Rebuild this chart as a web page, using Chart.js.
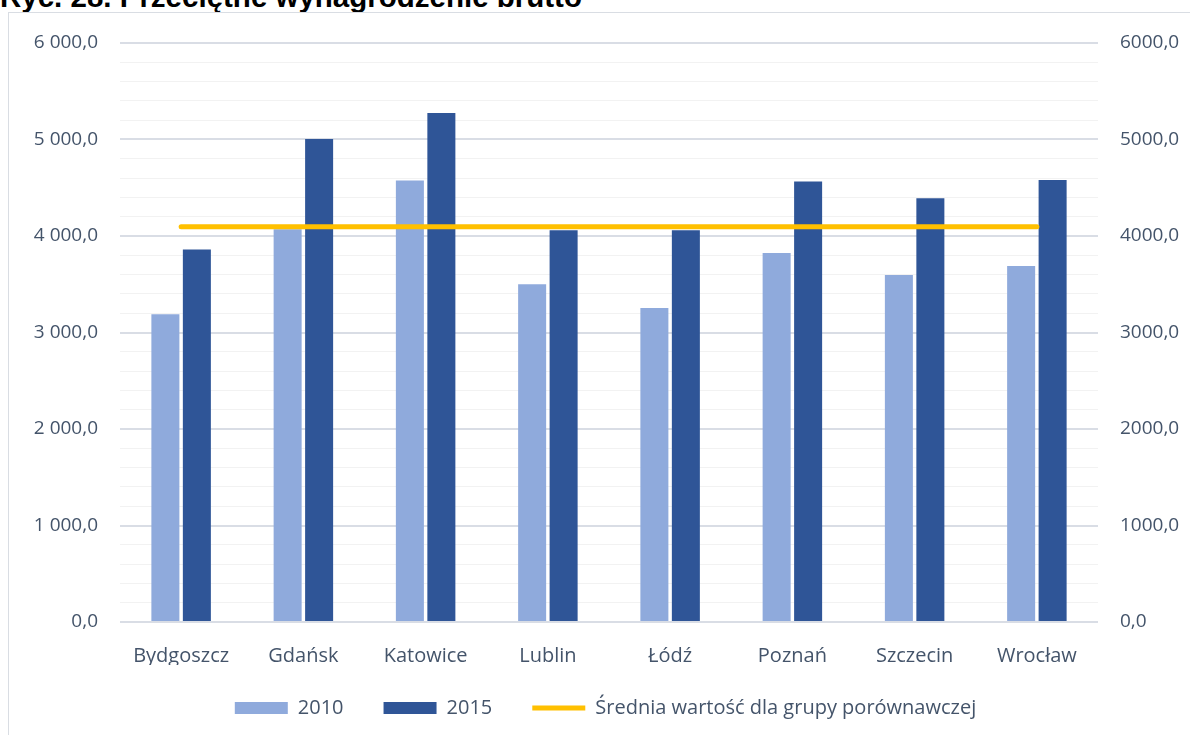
<!DOCTYPE html>
<html>
<head>
<meta charset="utf-8">
<script src="https://cdn.jsdelivr.net/npm/chart.js@4"></script>
<style>
  html, body { margin: 0; padding: 0; background: #fff; overflow: hidden; }
  body { width: 1190px; height: 735px; position: relative; }
  .title {
    position: absolute; left: 0; top: -18px; margin: 0;
    font: bold 29.5px/29.5px "Liberation Sans", Arial, sans-serif; color: #000; white-space: nowrap;
  }
  .frame {
    position: absolute; left: 8px; top: 12px; width: 1200px; height: 740px;
    border-left: 1px solid #d9dde3; border-top: 1px solid #d9dde3;
  }
  .box { position: absolute; left: 9px; top: 13px; width: 1181px; height: 722px; }
</style>
</head>
<body>
<div class="title">Ryc. 28. Przeciętne wynagrodzenie brutto</div>
<div class="frame"></div>
<div class="box"><canvas id="chart" width="1181" height="722"></canvas></div>
<script>
const cities = ['Bydgoszcz', 'Gdańsk', 'Katowice', 'Lublin', 'Łódź', 'Poznań', 'Szczecin', 'Wrocław']
const wages2010 = [3190, 4070, 4575, 3500, 3255, 3825, 3595, 3690]
const wages2015 = [3860, 5005, 5275, 4060, 4060, 4565, 4390, 4580]
const groupAverage = 4095
const seriesNames = ['2010', '2015', 'Średnia wartość dla grupy porównawczej']

const textColor = '#44546A'
const font = { family: '"Open Sans", sans-serif', size: 20 }
const tickFont = { family: '"Open Sans", sans-serif', size: 19 }

// 6 000,0 on the left, 6000,0 on the right
const withSpaces = (v) => {
  const [whole, dec] = v.toFixed(1).split('.')
  return whole.replace(/\B(?=(\d{3})+(?!\d))/g, ' ') + ',' + dec
}
const plain = (v) => v.toFixed(1).replace('.', ',')

// legend padding doubles as item spacing, so pull the drawn legend up a little instead of shrinking it
const liftLegend = {
  id: 'liftLegend',
  afterInit(chart) {
    const legend = chart.legend
    const draw = legend.draw.bind(legend)
    legend.draw = (area) => {
      chart.ctx.save()
      chart.ctx.translate(0, -7)
      draw(area)
      chart.ctx.restore()
    }
  }
}

// tick padding would otherwise be added above the top label too
const fixedWidth = (w) => (axis) => {
  axis.width = w
  axis.paddingTop = 0
  axis.paddingBottom = 0
}

new Chart(document.getElementById('chart'), {
  type: 'bar',
  data: {
    labels: cities,
    datasets: [
      {
        label: seriesNames[0],
        data: wages2010,
        backgroundColor: '#8FAADC',
        pointStyle: 'rect',
        order: 1
      },
      {
        label: seriesNames[1],
        data: wages2015,
        backgroundColor: '#2F5597',
        pointStyle: 'rect',
        order: 1
      },
      {
        type: 'line',
        label: seriesNames[2],
        data: cities.map(() => groupAverage),
        borderColor: '#FFC000',
        backgroundColor: '#FFC000',
        borderWidth: 5,
        borderCapStyle: 'round',
        pointRadius: 0,
        pointStyle: 'line',
        order: 0
      }
    ]
  },
  plugins: [liftLegend],
  options: {
    responsive: false,
    animation: false,
    devicePixelRatio: 1,
    // left padding only nudges the centred legend to the right; the y axis width makes up for it
    layout: { padding: { top: 30, left: 12, right: 0, bottom: 0 } },
    categoryPercentage: 0.515,
    barPercentage: 0.89,
    scales: {
      x: {
        grid: { display: false },
        border: { display: false },
        ticks: { color: textColor, font, padding: 14, maxRotation: 0 },
        afterFit: (axis) => { axis.height = 43 }
      },
      y: {
        position: 'left',
        min: 0,
        max: 6000,
        border: { display: false },
        grid: {
          drawTicks: false,
          color: (ctx) => (ctx.tick && ctx.tick.value % 1000 === 0 ? '#D9DDE5' : '#F2F2F2'),
          lineWidth: (ctx) => (ctx.tick && ctx.tick.value % 1000 === 0 ? 2 : 1)
        },
        ticks: {
          stepSize: 200,
          autoSkip: false,
          color: textColor,
          font: tickFont,
          padding: 22,
          callback: (v) => (v % 1000 === 0 ? withSpaces(v) : '')
        },
        afterFit: fixedWidth(99)
      },
      y1: {
        position: 'right',
        min: 0,
        max: 6000,
        border: { display: false },
        grid: { display: false, drawTicks: false },
        ticks: { stepSize: 1000, color: textColor, font: tickFont, padding: 22, callback: (v) => plain(v) },
        afterFit: fixedWidth(92)
      }
    },
    plugins: {
      tooltip: { enabled: false },
      legend: {
        position: 'bottom',
        labels: {
          color: textColor,
          font,
          usePointStyle: true,
          pointStyleWidth: 53,
          boxHeight: 12,
          padding: 40,
          sort: (a, b) => a.datasetIndex - b.datasetIndex
        }
      }
    }
  }
})
</script>
</body>
</html>
